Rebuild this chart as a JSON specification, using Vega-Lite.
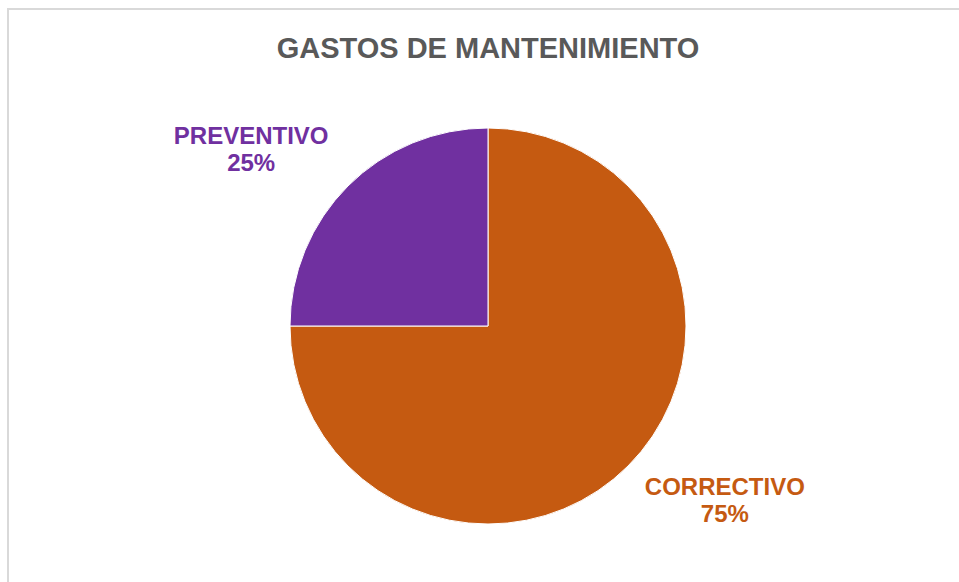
{
  "$schema": "https://vega.github.io/schema/vega-lite/v6.json",
  "width": 960,
  "height": 634,
  "padding": {"left": 8, "top": 9, "right": 0, "bottom": 0},
  "autosize": {"type": "none"},
  "background": "white",
  "view": {"stroke": "#d9d9d9", "strokeWidth": 2, "fill": "white"},
  "title": {
    "text": "GASTOS DE MANTENIMIENTO",
    "font": "Liberation Sans",
    "fontSize": 29,
    "fontWeight": "bold",
    "color": "#595959",
    "anchor": "middle",
    "frame": "group",
    "offset": -55
  },
  "data": {
    "values": [
      {"categoria": "CORRECTIVO", "porcentaje": 75},
      {"categoria": "PREVENTIVO", "porcentaje": 25}
    ]
  },
  "transform": [
    {"calculate": "datum.categoria + '\\n' + datum.porcentaje + '%'", "as": "etiqueta"}
  ],
  "layer": [
    {
      "mark": {"type": "arc", "outerRadius": 198, "stroke": "white", "strokeWidth": 1},
      "encoding": {
        "theta": {"field": "porcentaje", "type": "quantitative", "stack": true},
        "color": {
          "field": "categoria",
          "type": "nominal",
          "scale": {"domain": ["CORRECTIVO", "PREVENTIVO"], "range": ["#C55A11", "#7030A0"]},
          "legend": null
        }
      }
    },
    {
      "mark": {
        "type": "text",
        "radius": 295,
        "font": "Liberation Sans",
        "fontSize": 24,
        "fontWeight": "bold",
        "lineBreak": "\n",
        "lineHeight": 27,
        "align": "center",
        "baseline": "middle",
        "dy": -13.5
      },
      "encoding": {
        "theta": {
          "field": "porcentaje",
          "type": "quantitative",
          "stack": true,
          "scale": {"range": [-0.1466, 6.1366]}
        },
        "color": {
          "field": "categoria",
          "type": "nominal",
          "scale": {"domain": ["CORRECTIVO", "PREVENTIVO"], "range": ["#C55A11", "#7030A0"]},
          "legend": null
        },
        "text": {"field": "etiqueta"}
      }
    }
  ],
  "resolve": {"scale": {"theta": "independent"}}
}
